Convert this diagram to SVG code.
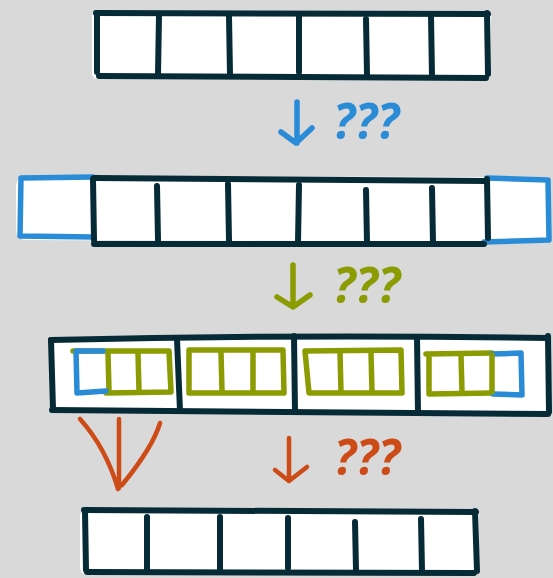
<svg xmlns="http://www.w3.org/2000/svg" width="553" height="578" viewBox="0 0 553 578">
  <style>
    .bg { fill: #d9d9d9; }
    .fill { fill: #ffffff; stroke: none; }
    .ink { fill: none; stroke: #062b37; stroke-width: 6; stroke-linecap: round; stroke-linejoin: round; }
    .blue { fill: none; stroke: #2a8bd6; stroke-width: 5.5; stroke-linecap: round; stroke-linejoin: round; }
    .green { fill: none; stroke: #8a9c02; stroke-width: 5.5; stroke-linecap: round; stroke-linejoin: round; }
    .orange { fill: none; stroke: #cc4b17; stroke-width: 4.5; stroke-linecap: round; stroke-linejoin: round; }
    .q { font-family: "Open Sans", "Liberation Sans", sans-serif; font-weight: bold; font-style: italic; font-size: 50px; }
  </style>

  <rect class="bg" x="0" y="0" width="553" height="578"/>

  <!-- top array: six cells -->
  <g id="row-input">
    <path class="fill" d="M92,16 Q93,11 100,12 L488,11 Q492,12 491,20 L490,76 L97,79 Q91,78 92,70 Z"/>
    <path class="ink" d="M96,13 L488,14"/>
    <path class="ink" d="M99,76 L486,78"/>
    <path class="ink" d="M97,13 L97,72"/>
    <path class="ink" d="M487,13 L488,74"/>
    <path class="ink" d="M159,16 L158,74"/>
    <path class="ink" d="M229,16 L230,75"/>
    <path class="ink" d="M299,16 L299,72"/>
    <path class="ink" d="M366,19 L367,75"/>
    <path class="ink" d="M431,16 L432,77"/>
  </g>

  <!-- padded array: one extra cell on each side -->
  <g id="row-padded">
    <path class="fill" d="M16,185 Q18,175 26,176 L548,177 Q551,180 550,190 L550,242 L25,240 Q15,238 16,228 Z"/>
    <path class="blue" d="M21,178 L93,177 M21,178 L20,236 M20,236 L93,237"/>
    <path class="blue" d="M487,178 L548,180 M548,180 L549,240 M549,240 L484,242"/>
    <path class="ink" d="M94,178 L487,181"/>
    <path class="ink" d="M94,244 L484,244"/>
    <path class="ink" d="M93,179 L94,240"/>
    <path class="ink" d="M487,179 L488,238"/>
    <path class="ink" d="M157,186 L158,240"/>
    <path class="ink" d="M228,184 L229,241"/>
    <path class="ink" d="M299,185 L298,242"/>
    <path class="ink" d="M366,190 L367,243"/>
    <path class="ink" d="M432,188 L433,243"/>
  </g>

  <!-- blocked array: four blocks of three cells -->
  <g id="row-blocks">
    <path class="fill" d="M50,340 L548,337 L549,412 L52,410 Z"/>
    <path class="ink" d="M51,340 Q300,334 548,338"/>
    <path class="ink" d="M52,410 Q300,412 548,414"/>
    <path class="ink" d="M51,340 L53,409"/>
    <path class="ink" d="M548,336 L549,412"/>
    <path class="ink" d="M177,339 L180,411"/>
    <path class="ink" d="M294,336 L295,412"/>
    <path class="ink" d="M417,337 L418,413"/>

    <g id="block-1">
      <path class="green" d="M73,351 L169,351 L171,392 L106,393"/>
      <path class="green" d="M108,353 L109,391 M138,353 L139,391"/>
      <path class="blue" d="M103,351 L76,351 L77,393 L106,391"/>
    </g>
    <g id="block-2">
      <path class="green" d="M189,350 L283,350 L284,393 L189,393 Z"/>
      <path class="green" d="M221,352 L222,391 M253,352 L253,391"/>
    </g>
    <g id="block-3">
      <path class="green" d="M305,351 L401,350 L402,393 L309,393 Z"/>
      <path class="green" d="M340,352 L341,392 M371,352 L372,392"/>
    </g>
    <g id="block-4">
      <path class="green" d="M426,354 L492,353 M429,357 L429,392 M429,394 L492,393"/>
      <path class="green" d="M461,354 L462,392"/>
      <path class="blue" d="M492,354 L521,353 L522,395 L493,394"/>
      <path class="green" d="M492,355 L492,392"/>
    </g>
  </g>

  <!-- output array: six cells -->
  <g id="row-output">
    <path class="fill" d="M80,515 Q82,509 90,510 L476,509 Q480,511 479,520 L478,574 L88,575 Q79,574 80,565 Z"/>
    <path class="ink" d="M84,510 L476,512"/>
    <path class="ink" d="M87,572 L474,573"/>
    <path class="ink" d="M85,511 L86,570"/>
    <path class="ink" d="M475,511 L477,571"/>
    <path class="ink" d="M147,517 L147,569"/>
    <path class="ink" d="M220,517 L220,571"/>
    <path class="ink" d="M288,518 L288,568"/>
    <path class="ink" d="M355,522 L356,570"/>
    <path class="ink" d="M421,519 L422,571"/>
  </g>

  <!-- step arrows -->
  <g id="connectors">
    <path class="blue" d="M297,102 L297,143 M281,132 L296,143 L312,128"/>
    <path class="green" d="M293,265 L293,307 M277,297 L293,307 L310,295"/>
    <path class="orange" d="M289,438 L289,481 M275,470 L289,481 L307,467"/>
    <path class="orange" d="M119,419 L119,488 M80,419 Q106,448 118,489 M160,423 Q153,447 122,485" stroke-width="6"/>
  </g>

  <!-- step labels -->
  <g id="labels">
    <text class="q" x="333" y="139" fill="#2a8bd6" textLength="66" lengthAdjust="spacingAndGlyphs">???</text>
    <text class="q" x="333" y="303" fill="#8a9c02" textLength="67" lengthAdjust="spacingAndGlyphs">???</text>
    <text class="q" x="334" y="475" fill="#cc4b17" textLength="66" lengthAdjust="spacingAndGlyphs">???</text>
  </g>
</svg>
